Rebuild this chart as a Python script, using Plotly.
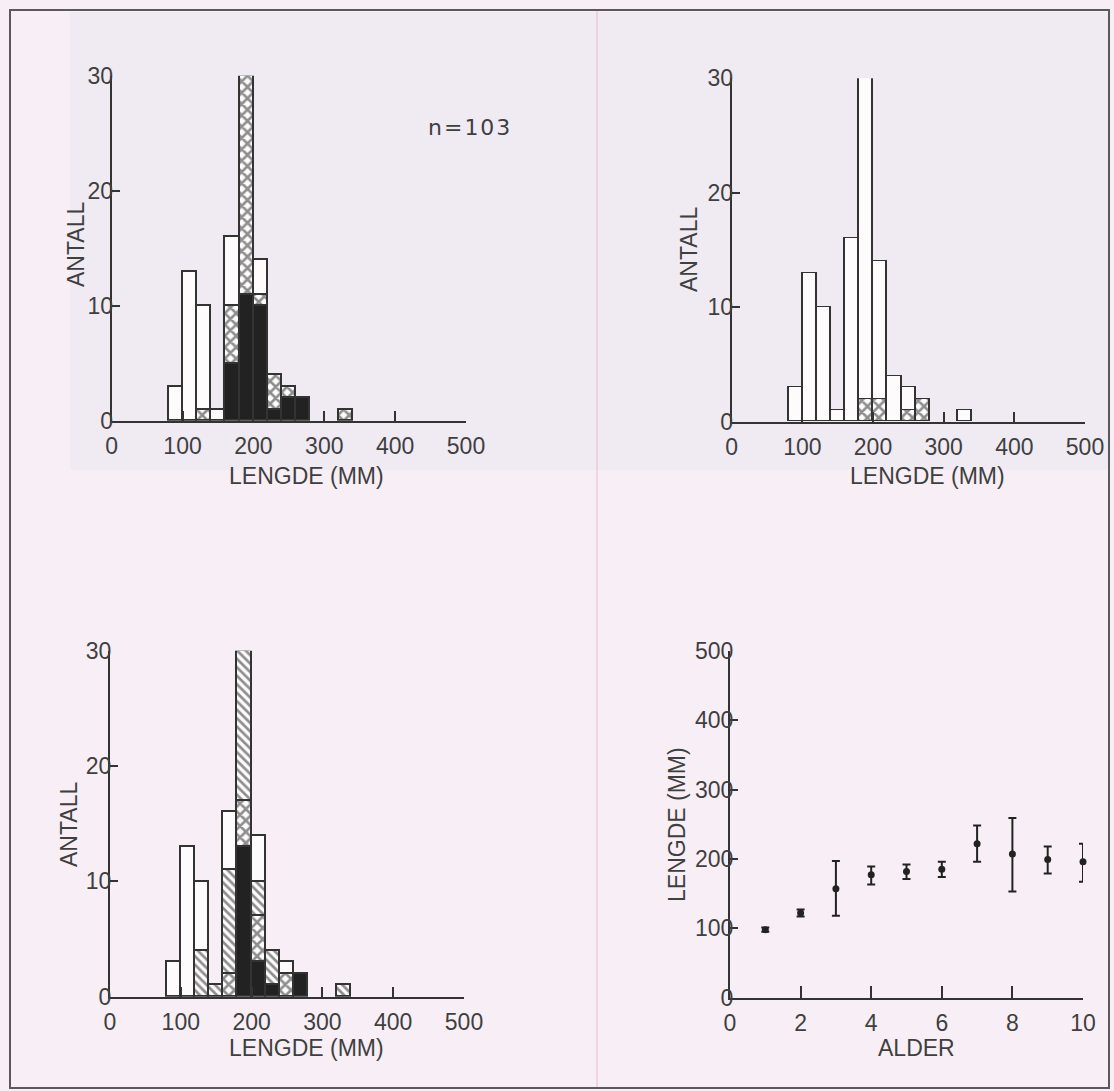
import plotly.graph_objects as go

# ---------------- data ----------------
bin_centers = [90, 110, 130, 150, 170, 190, 210, 230, 250, 270, 290, 310, 330]

# Panel A (top left): black / crosshatch / white segments per 20-mm bin
a_black = [0, 0, 0, 0, 5, 11, 10, 1, 2, 2, 0, 0, 0]
a_cross = [0, 0, 1, 0, 5, 19, 1, 3, 1, 0, 0, 0, 1]
a_white = [3, 13, 9, 1, 6, 0, 3, 0, 0, 0, 0, 0, 0]

# Panel B (top right): crosshatch / white
b_cross = [0, 0, 0, 0, 0, 2, 2, 0, 1, 2, 0, 0, 0]
b_white = [3, 13, 10, 1, 16, 28, 12, 4, 2, 0, 0, 0, 1]

# Panel C (bottom left): black / crosshatch / diagonal / white
c_black = [0, 0, 0, 0, 0, 13, 3, 1, 0, 2, 0, 0, 0]
c_cross = [0, 0, 0, 0, 2, 4, 4, 0, 2, 0, 0, 0, 0]
c_diag = [0, 0, 4, 1, 9, 13, 3, 3, 0, 0, 0, 0, 1]
c_white = [3, 13, 6, 0, 5, 0, 4, 0, 1, 0, 0, 0, 0]

# Panel D (bottom right): length at age, mean with range
ages = [1, 2, 3, 4, 5, 6, 7, 8, 9, 10]
len_mean = [98, 122, 157, 177, 182, 185, 222, 207, 199, 196]
len_hi = [101, 127, 197, 189, 192, 196, 248, 259, 218, 222]
len_lo = [95, 117, 118, 163, 171, 174, 196, 153, 179, 167]

hist_xticks = [0, 100, 200, 300, 400, 500]
hist_yticks = [0, 10, 20, 30]
age_xticks = [0, 2, 4, 6, 8, 10]
len_yticks = [0, 100, 200, 300, 400, 500]

sample_label = "n=103"
len_title = "LENGDE (MM)"
count_title = "ANTALL"
age_title = "ALDER"

# ---------------- style ----------------
W, H = 1114, 1091
INK = "#333333"
TXT = "#3f3f3f"
BG = "#f7eff5"
FONT = "Liberation Sans, Arial, sans-serif"
BIN_W = 20

fig = go.Figure()


def add_seg(xa, ya, vals, kind):
    line = dict(color=INK, width=1.8)
    if kind == "black":
        marker = dict(color="#222222", line=line)
    elif kind == "white":
        marker = dict(color="#fdfbfc", line=line)
    elif kind == "cross":
        marker = dict(color="#fdfbfc", line=line,
                      pattern=dict(shape="x", size=8, solidity=0.55,
                                   fgcolor="#222222", bgcolor="#fdfbfc",
                                   fillmode="overlay"))
    else:  # diagonal
        marker = dict(color="#fdfbfc", line=line,
                      pattern=dict(shape="\\", size=6, solidity=0.45,
                                   fgcolor="#222222", bgcolor="#fdfbfc",
                                   fillmode="overlay"))
    xs = [c for c, v in zip(bin_centers, vals) if v > 0]
    ys = [v for v in vals if v > 0]
    fig.add_trace(go.Bar(x=xs, y=ys, width=BIN_W, marker=marker,
                         xaxis=xa, yaxis=ya, showlegend=False,
                         hoverinfo="x+y"))


for vals, kind in [(a_black, "black"), (a_cross, "cross"), (a_white, "white")]:
    add_seg("x", "y", vals, kind)
for vals, kind in [(b_cross, "cross"), (b_white, "white")]:
    add_seg("x2", "y2", vals, kind)
for vals, kind in [(c_black, "black"), (c_cross, "cross"),
                   (c_diag, "diag"), (c_white, "white")]:
    add_seg("x3", "y3", vals, kind)

fig.add_trace(go.Scatter(
    x=ages, y=len_mean, mode="markers", xaxis="x4", yaxis="y4",
    marker=dict(color="#222222", size=7), cliponaxis=False,
    error_y=dict(type="data", symmetric=False,
                 array=[h - m for h, m in zip(len_hi, len_mean)],
                 arrayminus=[m - l for m, l in zip(len_mean, len_lo)],
                 color="#222222", thickness=2, width=4),
    showlegend=False))


def px_x(p):
    return p / W


def px_y(p):
    return 1 - p / H


def axis_common(ticklen, standoff):
    return dict(showline=True, linecolor=INK, linewidth=2, automargin=False,
                ticks="inside", ticklen=ticklen, tickwidth=2, tickcolor=INK,
                showgrid=False, zeroline=False, ticklabelstandoff=standoff,
                tickfont=dict(family=FONT, size=23, color=TXT))


def hist_axes(x0, x1, y0, y1):
    xa = axis_common(10, 4)
    xa.update(domain=[px_x(x0), px_x(x1)], range=[0, 500],
              tickvals=hist_xticks)
    ya = axis_common(8, -8)
    ya.update(domain=[px_y(y0), px_y(y1)], range=[0, 30],
              tickvals=hist_yticks)
    return xa, ya


xa1, ya1 = hist_axes(111.7, 466, 420.7, 75.7)
xa2, ya2 = hist_axes(731.7, 1085, 421.7, 78.3)
xa3, ya3 = hist_axes(110, 464, 996.7, 650.7)

xa4 = axis_common(12, 4)
xa4.update(domain=[px_x(730), px_x(1083)], range=[0, 10],
           tickvals=age_xticks)
ya4 = axis_common(8, -10)
ya4.update(domain=[px_y(997.7), px_y(650.7)], range=[0, 500],
           tickvals=len_yticks)

title_font = dict(family=FONT, size=23, color=TXT)


def title_ann(text, cx, cy, angle=0):
    return dict(text=text, xref="paper", yref="paper",
                x=px_x(cx), y=px_y(cy), xanchor="center", yanchor="middle",
                showarrow=False, textangle=angle, font=title_font)


annotations = [
    title_ann(len_title, 306, 476),
    title_ann(len_title, 927, 476),
    title_ann(len_title, 306, 1048),
    title_ann(age_title, 916, 1048),
    title_ann(count_title, 76, 245, -90),
    title_ann(count_title, 689, 250, -90),
    title_ann(count_title, 69, 825, -90),
    title_ann(len_title, 677, 825, -90),
    dict(text='<span style="letter-spacing:2px">' + sample_label + '</span>',
         xref="paper", yref="paper", x=px_x(470), y=px_y(127),
         xanchor="center", yanchor="middle", showarrow=False,
         font=dict(family="DejaVu Sans, sans-serif", size=22, color=TXT)),
]

fig.update_layout(
    width=W, height=H, autosize=False,
    margin=dict(l=0, r=0, t=0, b=0, pad=0, autoexpand=False),
    paper_bgcolor=BG, plot_bgcolor="rgba(0,0,0,0)",
    barmode="stack", bargap=0,
    xaxis=dict(xa1, anchor="y"), yaxis=dict(ya1, anchor="x"),
    xaxis2=dict(xa2, anchor="y2"), yaxis2=dict(ya2, anchor="x2"),
    xaxis3=dict(xa3, anchor="y3"), yaxis3=dict(ya3, anchor="x3"),
    xaxis4=dict(xa4, anchor="y4"), yaxis4=dict(ya4, anchor="x4"),
    annotations=annotations,
    shapes=[
        # faint tinted scan area in upper half
        dict(type="rect", xref="paper", yref="paper", layer="below",
             x0=px_x(70), x1=px_x(1108), y0=px_y(470), y1=px_y(12),
             fillcolor="#f0eaf3", line=dict(width=0)),
        # faint pink fold line
        dict(type="line", xref="paper", yref="paper", layer="below",
             x0=px_x(597), x1=px_x(597), y0=px_y(1088), y1=px_y(10),
             line=dict(color="#f1c9de", width=1.5)),
        # outer frame
        dict(type="rect", xref="paper", yref="paper",
             x0=px_x(10), x1=px_x(1109), y0=px_y(1088), y1=px_y(10),
             line=dict(color="#5a5a5a", width=2)),
    ],
)

fig.write_html("out.html", config={"responsive": False,
                                   "displayModeBar": False})

# remove default page margins so the figure fills the window exactly
with open("out.html", "r", encoding="utf-8") as f:
    html = f.read()
html = html.replace(
    "<head>",
    "<head><style>html,body{margin:0;padding:0;overflow:hidden;}</style>", 1)
with open("out.html", "w", encoding="utf-8") as f:
    f.write(html)
